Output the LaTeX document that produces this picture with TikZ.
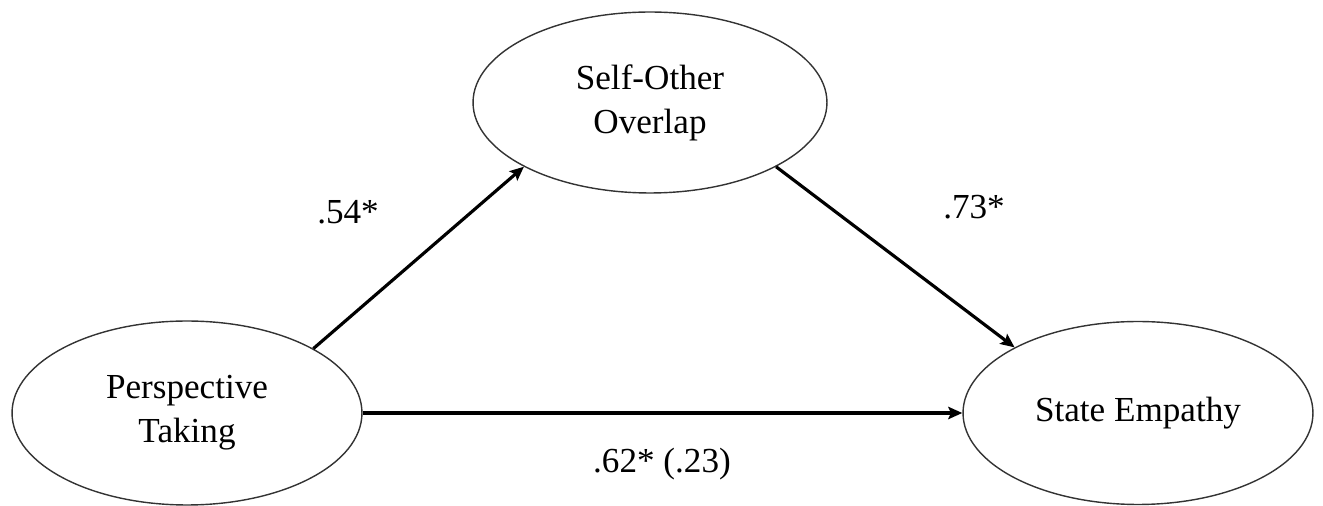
\documentclass[tikz,border=0pt]{standalone}
\usepackage{fontspec}
\setmainfont{LiberationSerif}[Extension=.ttf,UprightFont=*-Regular,BoldFont=*-Bold,ItalicFont=*-Italic]
\usetikzlibrary{shapes.geometric,arrows.meta}
\begin{document}
\begin{tikzpicture}[x=0.02cm,y=-0.02cm,
  latent/.style={ellipse,draw=black!80,line width=0.8pt,inner sep=0pt,
    align=center,font=\rmfamily\fontsize{20}{25}\selectfont},
  path/.style={line width=1.8pt,-{Stealth[length=8pt,width=7pt,inset=1.5pt]}},
  coef/.style={font=\rmfamily\fontsize{20}{24}\selectfont}]
  \useasboundingbox (0,0) rectangle (1323,506);
  % latent variables
  \node[latent,minimum width=7cm,minimum height=3.68cm] (pt) at (187,413) {Perspective\\Taking};
  \node[latent,minimum width=7.08cm,minimum height=3.62cm] (so) at (650,102.5) {Self-Other\\Overlap};
  \node[latent,minimum width=7cm,minimum height=3.66cm] (se) at (1138,413) {State Empathy};
  % structural paths
  \draw[path] (pt.27.5) -- (so.207.8);
  \draw[path] (so.-27.9) -- (se.152.2);
  \draw[path] (pt.east) -- (se.west);
  % path coefficients
  \node[coef] (a) at (348,212) {.54*};
  \node[coef] (b) at (974,207) {.73*};
  \node[coef] (c) at (662,464) {.62* (.23)};
\end{tikzpicture}
\end{document}
